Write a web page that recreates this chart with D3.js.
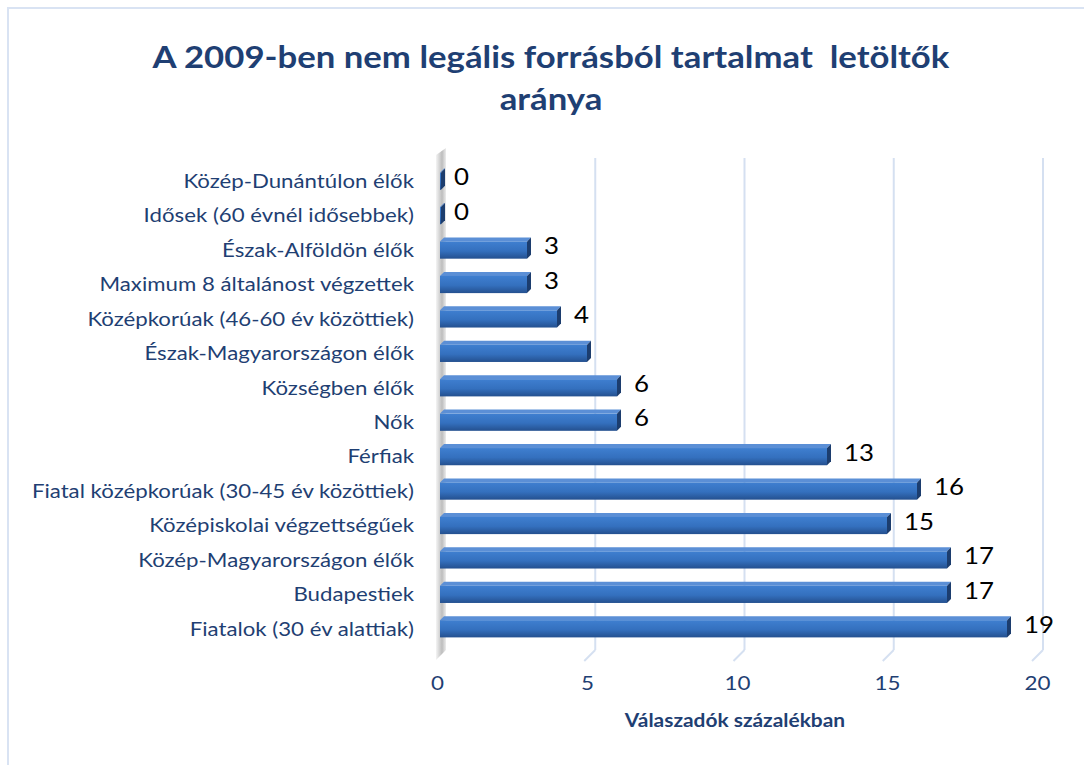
<!DOCTYPE html>
<html>
<head>
<meta charset="utf-8">
<script src="https://d3js.org/d3.v7.min.js"></script>
<style>
  body { margin: 0; background: #fff; }
  svg { display: block; font-family: Lato, "Open Sans", sans-serif; }
</style>
</head>
<body>
<script>
// data, top to bottom as drawn
const categories = [
  "Közép-Dunántúlon élők",
  "Idősek (60 évnél idősebbek)",
  "Észak-Alföldön élők",
  "Maximum 8 általánost végzettek",
  "Középkorúak (46-60 év közöttiek)",
  "Észak-Magyarországon élők",
  "Községben élők",
  "Nők",
  "Férfiak",
  "Fiatal középkorúak (30-45 év közöttiek)",
  "Középiskolai végzettségűek",
  "Közép-Magyarországon élők",
  "Budapestiek",
  "Fiatalok (30 év alattiak)"
];
const values = [0, 0, 3, 3, 4, 5, 6, 6, 13, 16, 15, 17, 17, 19];
const valueLabels = ["0", "0", "3", "3", "4", "", "6", "6", "13", "16", "15", "17", "17", "19"];
const xTicks = [0, 5, 10, 15, 20];
const titleLines = ["A 2009-ben nem legális forrásból tartalmat  letöltők", "aránya"];
const xTitle = "Válaszadók százalékban";

const W = 1084, H = 765;
const dark = "#1f3f73";

// widen text horizontally to the reference proportions
function stretch(sel, k) {
  sel.each(function() {
    const w = this.getComputedTextLength();
    if (w > 0) d3.select(this).attr("textLength", w * k).attr("lengthAdjust", "spacingAndGlyphs");
  });
}

const svg = d3.select("body").append("svg").attr("width", W).attr("height", H);

const defs = svg.append("defs");
const g1 = defs.append("linearGradient").attr("id", "barFront").attr("x1", 0).attr("y1", 0).attr("x2", 0).attr("y2", 1);
g1.append("stop").attr("offset", "0%").attr("stop-color", "#3f7fd0");
g1.append("stop").attr("offset", "55%").attr("stop-color", "#3470be");
g1.append("stop").attr("offset", "100%").attr("stop-color", "#24508f");
const g2 = defs.append("linearGradient").attr("id", "wall").attr("x1", 0).attr("y1", 0).attr("x2", 1).attr("y2", 0);
g2.append("stop").attr("offset", "0%").attr("stop-color", "#f4f4f4");
g2.append("stop").attr("offset", "60%").attr("stop-color", "#bdbdbd");
g2.append("stop").attr("offset", "100%").attr("stop-color", "#ececec");

// frame
svg.append("rect").attr("x", 8).attr("y", 8).attr("width", 1100).attr("height", 800)
  .attr("fill", "none").attr("stroke", "#d9e3f3").attr("stroke-width", 2);

// title
svg.append("g").selectAll("text").data(titleLines).enter().append("text")
  .attr("x", 551).attr("y", (d, i) => 68 + i * 42)
  .attr("text-anchor", "middle").style("white-space", "pre")
  .attr("font-size", 31).attr("font-weight", "bold").attr("fill", dark)
  .text(d => d)
  .call(stretch, 1.12);

// bars sit a bit in front of the back wall, so two scales
const x = d3.scaleLinear().domain([0, 20]).range([437, 1037]);
const xg = d3.scaleLinear().domain([0, 20]).range([446, 1043]);
const y = d3.scaleBand().domain(categories).range([164, 646]).paddingInner(0.5).paddingOuter(0.25);
const plotTop = 158, plotBottom = 650;

// gridlines with 3D foot
const grid = svg.append("g");
xTicks.forEach(t => {
  if (t === 0) return;
  grid.append("line").attr("x1", xg(t)).attr("x2", xg(t)).attr("y1", plotTop).attr("y2", plotBottom)
    .attr("stroke", "#d5e0f1").attr("stroke-width", 2);
  grid.append("line").attr("x1", xg(t)).attr("x2", xg(t) - 11).attr("y1", plotBottom).attr("y2", plotBottom + 11)
    .attr("stroke", "#d5e0f1").attr("stroke-width", 2);
});

// side wall
svg.append("path")
  .attr("d", `M${xg(0) - 10},${plotTop - 3} L${xg(0)},${plotTop - 10} L${xg(0)},${plotBottom} L${xg(0) - 10},${plotBottom + 10} Z`)
  .attr("fill", "url(#wall)");

// bars
const bars = svg.append("g").selectAll("g").data(categories).enter().append("g");
const bh = y.bandwidth();
bars.each(function(d, i) {
  const gg = d3.select(this);
  const x0 = x(0) + 3, x1 = Math.max(x(values[i]), x0 + 1);
  const y0 = y(d), dp = 4;
  // top face
  gg.append("path")
    .attr("d", `M${x0},${y0} L${x0 + dp},${y0 - dp} L${x1 + dp},${y0 - dp} L${x1},${y0} Z`)
    .attr("fill", "#5b8fd6");
  // front face
  gg.append("rect").attr("x", x0).attr("y", y0).attr("width", x1 - x0).attr("height", bh)
    .attr("fill", "url(#barFront)");
  // end face
  gg.append("path")
    .attr("d", `M${x1},${y0} L${x1 + dp},${y0 - dp} L${x1 + dp},${y0 + bh - dp} L${x1},${y0 + bh} Z`)
    .attr("fill", "#1c3d6e");
});

// value labels
svg.append("g").selectAll("text").data(categories).enter().append("text")
  .attr("x", (d, i) => x(values[i]) + 17)
  .attr("y", d => y(d) + bh / 2 - 4)
  .attr("dy", "0.35em")
  .attr("font-size", 23.5).attr("fill", "#000")
  .text((d, i) => valueLabels[i])
  .call(stretch, 1.1);

// category labels
svg.append("g").selectAll("text").data(categories).enter().append("text")
  .attr("x", 414).attr("y", d => y(d) + bh / 2)
  .attr("dy", "0.35em").attr("text-anchor", "end")
  .attr("font-size", 19.5).attr("fill", dark)
  .text(d => d)
  .call(stretch, 1.14);

// x axis
const xAxis = d3.axisBottom(x).tickValues(xTicks).tickSize(0).tickPadding(0);
const ax = svg.append("g").attr("transform", "translate(0,676)").call(xAxis);
ax.select(".domain").remove();
ax.selectAll("text").attr("font-size", 20).attr("fill", dark)
  .attr("font-family", "Lato, 'Open Sans', sans-serif")
  .call(stretch, 1.12);

svg.append("text").attr("x", 735).attr("y", 727).attr("text-anchor", "middle")
  .attr("font-size", 19).attr("font-weight", "bold").attr("fill", dark)
  .text(xTitle)
  .call(stretch, 1.1);
</script>
</body>
</html>
